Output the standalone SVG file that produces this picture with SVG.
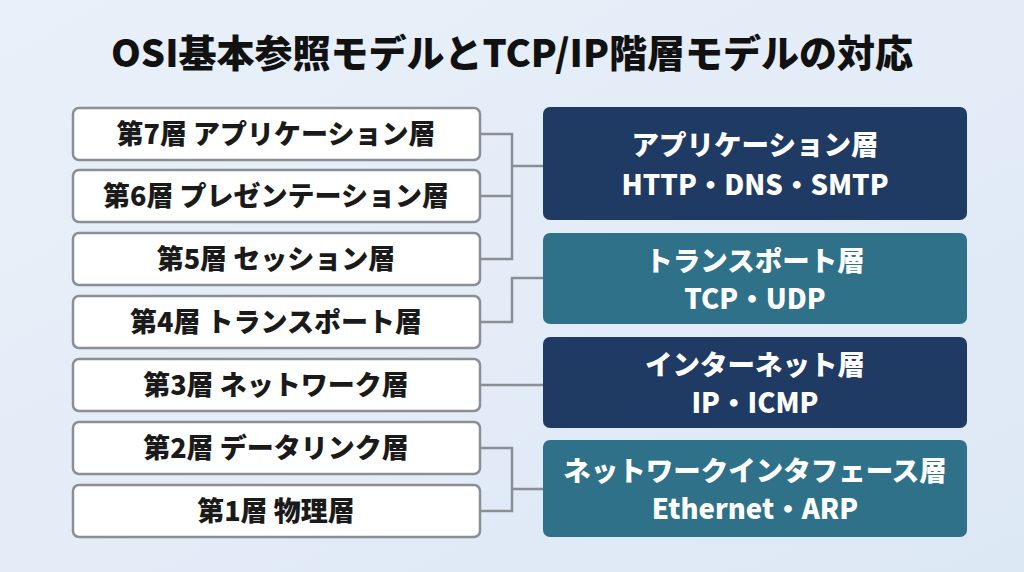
<svg xmlns="http://www.w3.org/2000/svg" width="1024" height="572" viewBox="0 0 1024 572">
<defs>
<linearGradient id="bg" x1="0" y1="0" x2="1" y2="1"><stop offset="0" stop-color="#e9f0f9"/><stop offset="1" stop-color="#dde8f5"/></linearGradient>
<style>
text{font-family:"Noto Sans CJK JP","Noto Sans",sans-serif;font-weight:900;text-anchor:middle}
.l rect{fill:#fff;stroke:#8a8f96;stroke-width:2.5}
.l text{font-size:27px;fill:#1a1a1a}
.dk{fill:#1f3a63}.tl{fill:#2e7189}
.r text{fill:#fff;font-size:27.5px}
#conn path{fill:none;stroke:#8a8f96;stroke-width:2.5}
</style>
</defs>
<rect width="1024" height="572" fill="url(#bg)"/>
<text x="512" y="67" font-size="38" fill="#111">OSI基本参照モデルとTCP/IP階層モデルの対応</text>
<g id="conn">
<path d="M480 134H512V259H480M480 196H512M512 166H543"/>
<path d="M480 322H512V278H543"/>
<path d="M480 385H543"/>
<path d="M480 448H512V511H480M512 489H543"/>
</g>
<g id="osi7" class="l"><rect x="73" y="108" width="407" height="52" rx="6"/><text x="276" y="144">第7層 アプリケーション層</text></g>
<g id="osi6" class="l"><rect x="73" y="170" width="407" height="52" rx="6"/><text x="276" y="206">第6層 プレゼンテーション層</text></g>
<g id="osi5" class="l"><rect x="73" y="233" width="407" height="52" rx="6"/><text x="276" y="269">第5層 セッション層</text></g>
<g id="osi4" class="l"><rect x="73" y="296" width="407" height="52" rx="6"/><text x="276" y="332">第4層 トランスポート層</text></g>
<g id="osi3" class="l"><rect x="73" y="359" width="407" height="52" rx="6"/><text x="276" y="395">第3層 ネットワーク層</text></g>
<g id="osi2" class="l"><rect x="73" y="422" width="407" height="52" rx="6"/><text x="276" y="458">第2層 データリンク層</text></g>
<g id="osi1" class="l"><rect x="73" y="485" width="407" height="52" rx="6"/><text x="276" y="521">第1層 物理層</text></g>
<g id="tcp-app" class="r"><rect class="dk" x="543" y="107" width="424" height="113" rx="7"/><text x="755" y="155">アプリケーション層</text><text x="755" y="195">HTTP・DNS・SMTP</text></g>
<g id="tcp-tr" class="r"><rect class="tl" x="543" y="233" width="424" height="91" rx="7"/><text x="755" y="271">トランスポート層</text><text x="755" y="309">TCP・UDP</text></g>
<g id="tcp-in" class="r"><rect class="dk" x="543" y="337" width="424" height="91" rx="7"/><text x="755" y="375">インターネット層</text><text x="755" y="413">IP・ICMP</text></g>
<g id="tcp-nw" class="r"><rect class="tl" x="543" y="440" width="424" height="97" rx="7"/><text x="755" y="481">ネットワークインタフェース層</text><text x="755" y="519">Ethernet・ARP</text></g>
</svg>
